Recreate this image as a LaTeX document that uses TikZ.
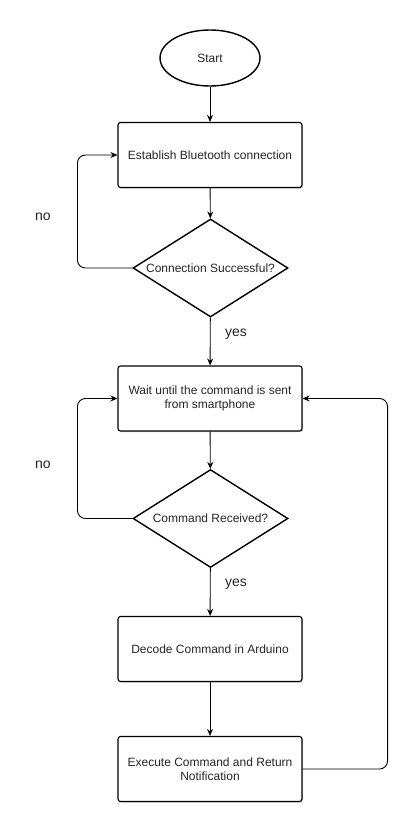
\documentclass[tikz,border=0pt]{standalone}
\usepackage{fontspec}
\setmainfont{Liberation Sans}
\usetikzlibrary{shapes.geometric,arrows.meta,calc,shadows}
\begin{document}
\begin{tikzpicture}[x=1pt,y=-1pt,
  every node/.style={font=\fontsize{12}{14.5}\selectfont, text=black!85},
  procbox/.style={draw=black, line width=1.1pt, rounded corners=2.5pt, minimum width=184pt, minimum height=65pt, align=center, inner sep=2pt, fill=white,
     drop shadow={shadow xshift=1.2pt, shadow yshift=-1.2pt, opacity=0.35}},
  startshape/.style={draw=black, line width=1.4pt, ellipse, minimum width=100pt, minimum height=56pt, inner sep=0pt},
  decision/.style={draw=black, line width=1.4pt, diamond, minimum width=155pt, minimum height=98pt, inner sep=0pt, aspect=1.58},
  flow/.style={draw=black, line width=0.9pt, -{Stealth[length=7pt,width=6pt]}},
  loopline/.style={flow, rounded corners=8pt},
  lbl/.style={font=\fontsize{14}{16}\selectfont, text=black!85}
]
\useasboundingbox (0,0) rectangle (407,816);
\node[startshape] (start) at (210,58) {Start};
\node[procbox] (b1) at (210,155) {Establish Bluetooth connection};
\node[decision] (d1) at (210.5,268) {Connection Successful?};
\node[procbox] (b2) at (210,398.5) {Wait until the command is sent\\from smartphone};
\node[decision] (d2) at (210.5,518.5) {Command Received?};
\node[procbox] (b3) at (210,649) {Decode Command in Arduino};
\node[procbox] (b4) at (210,769) {Execute Command and Return\\Notification};

\draw[flow] (start) -- (b1);
\draw[flow] (b1) -- (d1);
\draw[flow] (d1) -- (b2);
\draw[flow] (b2) -- (d2);
\draw[flow] (d2) -- (b3);
\draw[flow] (b3) -- (b4);

\draw[loopline] (d1.west) -| ($(b1.west)+(-40,0)$) -- (b1.west);
\draw[loopline] (d2.west) -| ($(b2.west)+(-40,0)$) -- (b2.west);
\draw[loopline] (b4.east) -| ($(b2.east)+(85,0)$) -- (b2.east);

\node[lbl] (no1) at (43,217) {no};
\node[lbl] (no2) at (43,465) {no};
\node[lbl] (yes1) at (236,334) {yes};
\node[lbl] (yes2) at (236,584) {yes};
\end{tikzpicture}
\end{document}
